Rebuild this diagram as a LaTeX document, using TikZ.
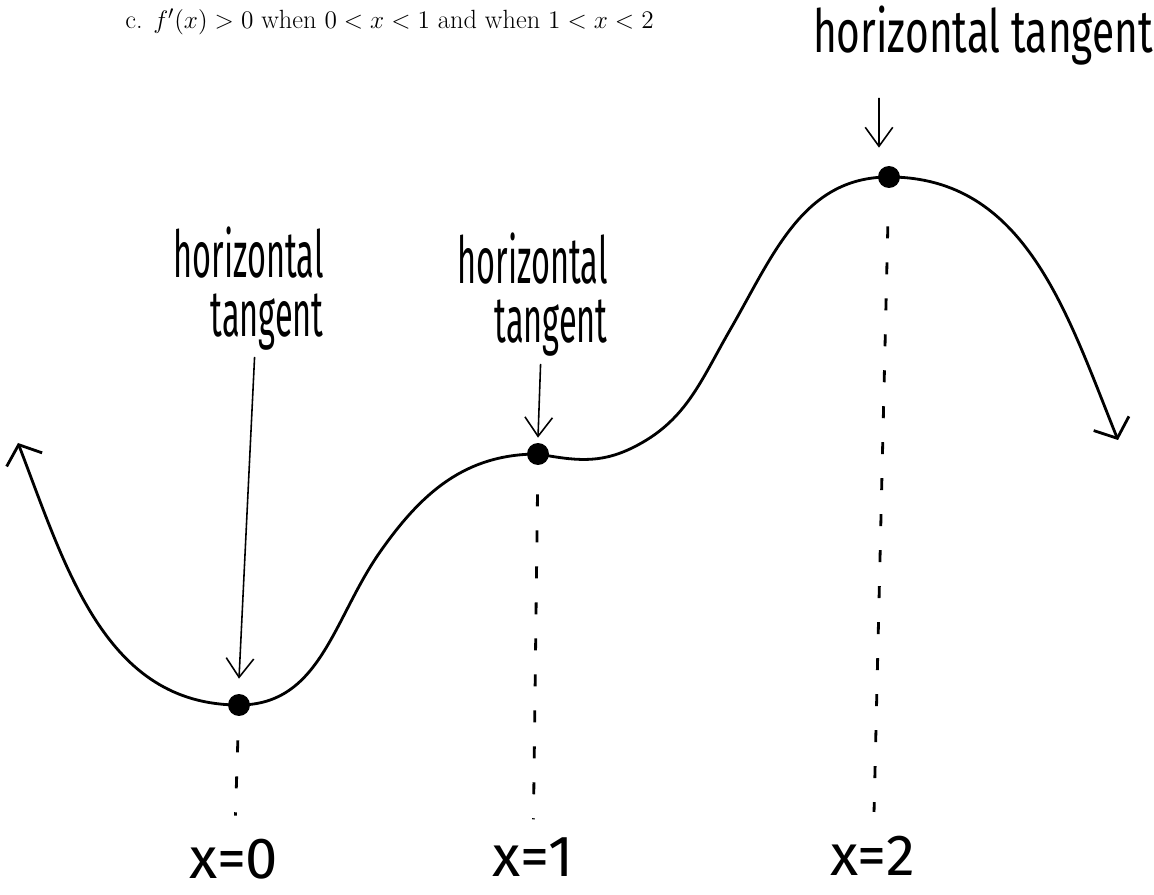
\documentclass[tikz,border=0pt]{standalone}
\usepackage{fontspec}
\setsansfont{Fira Sans}
\newfontfamily\handnarrow[FakeStretch=0.5]{Fira Sans}
\newfontfamily\handwide[FakeStretch=0.68]{Fira Sans}
\usetikzlibrary{arrows.meta}
\begin{document}
\begin{tikzpicture}[x=0.02cm, y=-0.02cm,
  every node/.style={inner sep=0pt},
  dot/.style={circle, fill=black, minimum size=0.44cm},
  note/.style={font=\handnarrow\fontsize{37}{34}\selectfont, align=right},
  bignote/.style={font=\handwide\fontsize{34}{34}\selectfont},
  rootlabel/.style={font=\sffamily\fontsize{33}{33}\selectfont},
  pointer/.style={-{Straight Barb[length=0.38cm,width=0.55cm]}, line width=0.9pt},
  barb/.tip={Straight Barb[length=0.32cm,width=0.76cm]},
  graph/.style={line width=1.6pt, barb-barb},
  guide/.style={line width=1.6pt, dash pattern=on 0.24cm off 0.48cm}]
\useasboundingbox (0,0) rectangle (1154,895);
\node[anchor=base west, font=\fontsize{15}{18}\selectfont] (task) at (125,29) {c. $f'(x) > 0$ when $0 < x < 1$ and when $1 < x < 2$};
% extrema and the flat point
\node[dot] (min) at (239,705) {};
\node[dot] (flat) at (538,454) {};
\node[dot] (max) at (889,177) {};
\coordinate (lefttip) at (18,443);
\coordinate (rise1) at (380,552);
\coordinate (shoulder) at (632,448);
\coordinate (rise2) at (730,330);
\coordinate (righttip) at (1118,440);
\draw[graph] (lefttip) to[out=-69,in=180] (min.center) to[out=0,in=235] (rise1)
  to[out=55,in=180] (flat.center) to[out=-10,in=206] (shoulder) to[out=26,in=240] (rise2)
  to[out=60,in=180] (max.center) to[out=0,in=112] (righttip);
% labels with their arrows
\node[note, anchor=north east] (tanA) at (324,226) {horizontal\\tangent};
\node[note, anchor=north east] (tanB) at (608,232) {horizontal\\tangent};
\node[bignote, anchor=base] (tanC) at (983,53) {horizontal tangent};
\coordinate (topfoot) at (879,98);
\draw[pointer] ([xshift=0.12cm,yshift=-0.12cm]tanA.south) -- ([yshift=0.3cm]min.north);
\draw[pointer] ([xshift=0.16cm,yshift=-0.14cm]tanB.south) -- ([yshift=0.1cm]flat.north);
\draw[pointer] (topfoot) -- ([xshift=-0.2cm,yshift=0.36cm]max.north);
% x values
\node[rootlabel] (x0) at (234,859) {x=0};
\node[rootlabel] (x1) at (533,857) {x=1};
\node[rootlabel] (x2) at (873,856) {x=2};
\draw[guide, shorten <=0.48cm, shorten >=0.46cm] (min) -- (x0);
\draw[guide, shorten <=0.58cm, shorten >=0.36cm] (flat) -- (x1);
\draw[guide, shorten <=0.76cm, shorten >=0.48cm] (max) -- (x2);
\end{tikzpicture}
\end{document}
